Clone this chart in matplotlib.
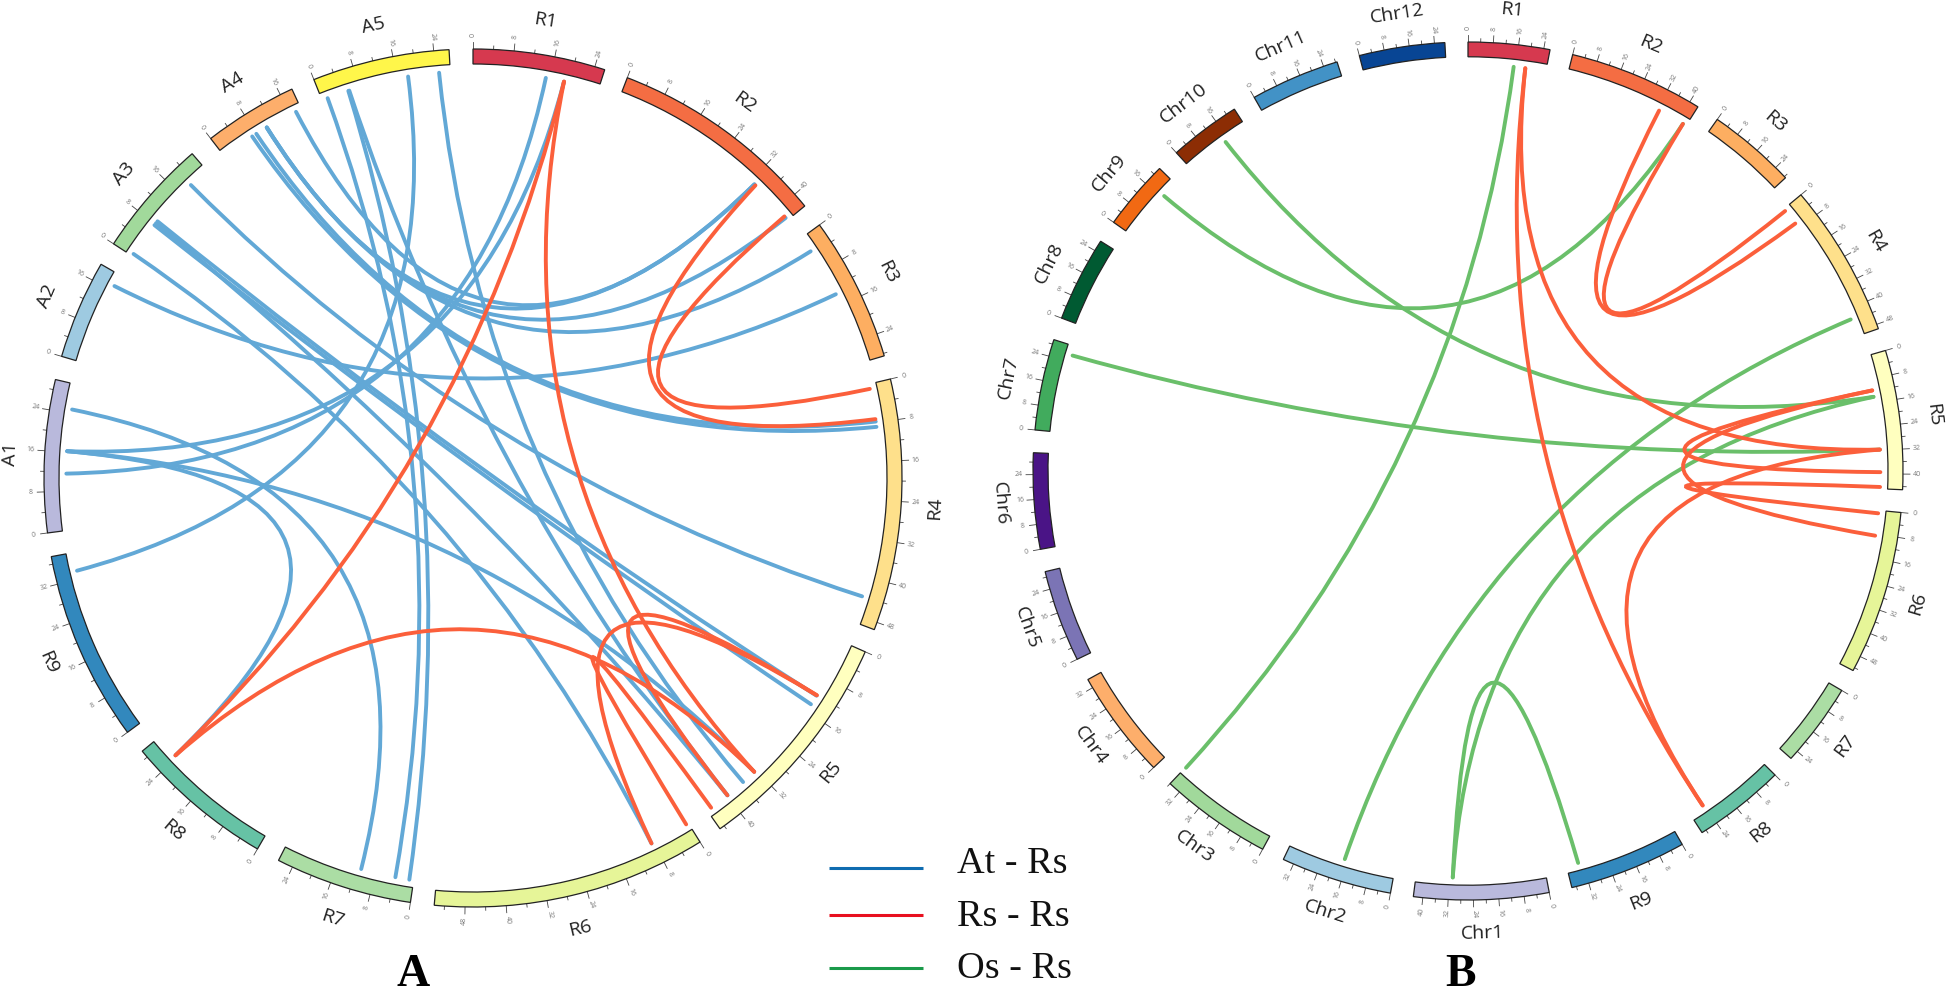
import numpy as np
import matplotlib
matplotlib.use("Agg")
import matplotlib.pyplot as plt
from matplotlib.patches import Wedge, PathPatch
from matplotlib.path import Path

# chromosome lengths (Mb), clockwise from the top
a_names = ["R1", "R2", "R3", "R4", "R5", "R6", "R7", "R8", "R9", "A1", "A2", "A3", "A4", "A5"]
a_lengths = [26, 43, 28.5, 49.5, 45, 54, 27, 29.5, 37.5, 30, 19.5, 23.3, 18.5, 27]
a_colors = ["#d6394f", "#f46d43", "#fdae61", "#fee08b", "#ffffbf", "#e6f598", "#abdda4", "#66c2a5", "#3288bd",
            "#b9b9dc", "#9ecae1", "#a1d99b", "#fdae6b", "#fff64a"]

b_names = ["R1", "R2", "R3", "R4", "R5", "R6", "R7", "R8", "R9", "Chr1", "Chr2", "Chr3", "Chr4", "Chr5", "Chr6",
           "Chr7", "Chr8", "Chr9", "Chr10", "Chr11", "Chr12"]
b_lengths = [26, 43, 28.5, 49.5, 45, 53, 27, 29.5, 37.5, 43, 35.5, 36, 35, 29.8, 31, 29.5, 27.5, 22.5, 23, 28.5, 27.3]
b_colors = ["#d6394f", "#f46d43", "#fdae61", "#fee08b", "#ffffbf", "#e6f598", "#abdda4", "#66c2a5", "#3288bd",
            "#b9b9dc", "#9ecae1", "#a1d99b", "#fdae6b", "#7b74b5", "#4a1486", "#41ab5d", "#005a32", "#f16913",
            "#8c2d04", "#4292c6", "#084594"]

# links: (sector, Mb, sector, Mb)
a_blue = [
    ("A1", 24.8, "R7", 11.0), ("A1", 16.2, "R8", 24.5), ("A1", 16.2, "R5", 32.5), ("A1", 16.2, "R1", 18.8),
    ("A1", 11.6, "R1", 15.0), ("R9", 33.7, "A5", 18.3), ("A2", 17.0, "R3", 13.5), ("A3", 0.5, "R6", 8.6),
    ("A3", 18.9, "R4", 44.0), ("A3", 7.8, "R5", 14.4), ("A3", 8.8, "R5", 12.3), ("A3", 8.3, "R5", 39.8),
    ("A4", 17.3, "R2", 33.0), ("A4", 10.5, "R2", 33.0), ("A4", 10.5, "R2", 42.4), ("A4", 10.5, "R3", 3.3),
    ("A4", 7.0, "R4", 8.9), ("A4", 8.0, "R4", 7.8), ("A5", 1.2, "R7", 3.8), ("A5", 5.7, "R7", 0.9),
    ("A5", 5.9, "R5", 39.8), ("A5", 24.7, "R5", 35.6),
]
a_red = [
    ("R1", 18.8, "R8", 24.5), ("R1", 18.8, "R5", 32.5), ("R2", 33.3, "R4", 7.3), ("R2", 42.0, "R4", 1.0),
    ("R8", 24.5, "R5", 32.5), ("R5", 12.2, "R5", 39.8), ("R5", 12.2, "R6", 8.6), ("R5", 44.0, "R6", 0.5),
]
b_green = [
    ("R1", 15.2, "Chr3", 35.8), ("R2", 41.8, "Chr9", 17.0), ("Chr10", 14.6, "R5", 13.9), ("Chr7", 26.3, "R5", 31.8),
    ("R4", 43.5, "Chr2", 17.0), ("R5", 13.9, "Chr1", 30.8), ("Chr1", 30.8, "R9", 33.5),
]
b_red = [
    ("R1", 19.1, "R8", 24.4), ("R1", 19.1, "R5", 31.8), ("R2", 32.7, "R4", 6.2), ("R2", 41.8, "R4", 0.8),
    ("R5", 31.8, "R8", 24.4), ("R5", 11.7, "R5", 39.4), ("R5", 11.7, "R6", 8.6), ("R5", 44.4, "R6", 1.0),
]

legend_labels = ["At - Rs", "Rs - Rs", "Os - Rs"]
legend_colors = ["#0f6cb0", "#e8101f", "#1a9a4a"]

blue = "#62a8d6"
red = "#fb5f3b"
green = "#6abf6a"
W, H = 1946, 994


def polar(angle, r):
    t = np.radians(angle)
    return r * np.sin(t), r * np.cos(t)


def label_rotation(angle):
    if angle <= 90:
        return -angle
    if angle < 270:
        return 180 - angle
    return 360 - angle


def draw_circle(fig, names, lengths, colors, link_sets, cx, cy, rx, ry, gap):
    ax = fig.add_axes([0, 0, 1, 1])
    ax.set_xlim(-cx / rx, (W - cx) / rx)
    ax.set_ylim((cy - H) / ry, cy / ry)
    ax.axis("off")
    ax.patch.set_alpha(0)

    scale = (360 - gap * len(names)) / sum(lengths)
    starts = {}
    a = 0.0
    band = 15 / rx
    for name, length, color in zip(names, lengths, colors):
        starts[name] = a
        end = a + length * scale
        ax.add_patch(Wedge((0, 0), 1, 90 - end, 90 - a, width=band, fc=color, ec="#222222", lw=0.9, zorder=3))
        for m in np.arange(0, length + 0.01, 4):
            ang = a + m * scale
            major = int(m) % 8 == 0
            x0, y0 = polar(ang, 1)
            x1, y1 = polar(ang, 1 + (7 if major else 3.5) / rx)
            ax.plot([x0, x1], [y0, y1], color="#444444", lw=0.6, zorder=2)
            if major:
                rot = 90 - ang if ang < 180 else 270 - ang
                xt, yt = polar(ang, 1 + 14 / rx)
                ax.text(xt, yt, str(int(m)), fontsize=5, color="#777777", rotation=rot,
                        rotation_mode="anchor", ha="center", va="center", family="Open Sans")
        mid = (a + end) / 2
        xl, yl = polar(mid, 1 + 34 / rx)
        ax.text(xl, yl, name, fontsize=14, color="#222222", rotation=label_rotation(mid),
                rotation_mode="anchor", ha="center", va="center", family="Open Sans")
        a = end + gap

    # links are quadratic curves pulled towards the middle of the circle
    for links, color in link_sets:
        for s1, p1, s2, p2 in links:
            xy0 = polar(starts[s1] + p1 * scale, 0.948)
            xy1 = polar(starts[s2] + p2 * scale, 0.948)
            ctrl = ((xy0[0] + xy1[0]) * 0.03, (xy0[1] + xy1[1]) * 0.03)
            path = Path([xy0, ctrl, xy1], [Path.MOVETO, Path.CURVE3, Path.CURVE3])
            ax.add_patch(PathPatch(path, fc="none", ec=color, lw=2.8, capstyle="round", zorder=1))
    return ax


def main():
    fig = plt.figure(figsize=(W / 100, H / 100), dpi=100, facecolor="white")
    draw_circle(fig, a_names, a_lengths, a_colors, [(a_blue, blue), (a_red, red)], 473, 478, 429, 429, 3.2)
    draw_circle(fig, b_names, b_lengths, b_colors, [(b_green, green), (b_red, red)], 1468, 471, 435, 429, 3.05)

    ax = fig.add_axes([0, 0, 1, 1])
    ax.set_xlim(0, W)
    ax.set_ylim(H, 0)
    ax.axis("off")
    ax.patch.set_alpha(0)
    for i, (label, color) in enumerate(zip(legend_labels, legend_colors)):
        y = [868, 915, 968][i]
        ax.plot([829, 923], [y, y], color=color, lw=2.2, solid_capstyle="butt")
        ax.text(957, [864, 917, 969][i], label, fontsize=27.5, family="Liberation Serif", color="#111111",
                ha="left", va="center")
    ax.text(413, 975, "A", fontsize=33, fontweight="bold", family="Liberation Serif", ha="center", va="center")
    ax.text(1460, 975, "B", fontsize=33, fontweight="bold", family="Liberation Serif", ha="center", va="center")

    fig.savefig("out.png", dpi=100)


if __name__ == '__main__':
    main()
